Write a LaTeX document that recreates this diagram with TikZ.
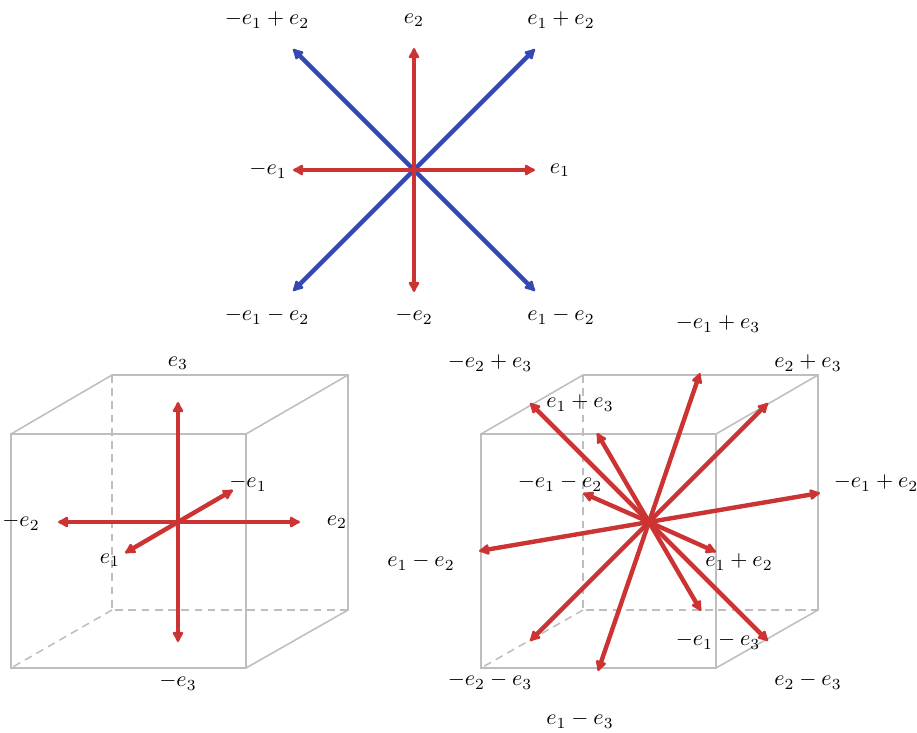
\documentclass[tikz,border=0pt]{standalone}
\usetikzlibrary{arrows.meta}
\definecolor{vred}{RGB}{204,51,51}
\definecolor{vblue}{RGB}{52,73,178}
\definecolor{cubegray}{RGB}{190,190,190}
\begin{document}
\begin{tikzpicture}[x=0.4535pt,y=-0.4535pt,
  vec/.style={line width=2pt,-{Latex[round,length=5.8pt,width=6pt]}},
  redvec/.style={vec,draw=vred},
  bluevec/.style={vec,draw=vblue},
  edge/.style={draw=cubegray,line width=0.7pt},
  hidden/.style={edge,dash pattern=on 3.5pt off 2.5pt},
  lab/.style={inner sep=0pt}]
\useasboundingbox (0,0) rectangle (917,732);
% ---------- top planar diagram ----------
\coordinate (O1) at (414,170);
\coordinate (a1) at (535,170);
\coordinate (a2) at (293,170);
\coordinate (a3) at (414,48);
\coordinate (a4) at (414,292);
\coordinate (a5) at (535,49);
\coordinate (a6) at (293,49);
\coordinate (a7) at (293,291);
\coordinate (a8) at (535,291);
\draw[bluevec] (O1) -- (a5);
\draw[bluevec] (O1) -- (a6);
\draw[bluevec] (O1) -- (a7);
\draw[bluevec] (O1) -- (a8);
\draw[redvec] (O1) -- (a1);
\draw[redvec] (O1) -- (a2);
\draw[redvec] (O1) -- (a3);
\draw[redvec] (O1) -- (a4);
\node[lab] (l1) at (560,170) {$e_1$};
\node[lab] (l2) at (268,170) {$-e_1$};
\node[lab] (l3) at (414,20) {$e_2$};
\node[lab] (l4) at (414,316) {$-e_2$};
\node[lab] (l5) at (561,20) {$e_1+e_2$};
\node[lab] (l6) at (267,20) {$-e_1+e_2$};
\node[lab] (l7) at (267,316) {$-e_1-e_2$};
\node[lab] (l8) at (561,316) {$e_1-e_2$};
% ---------- left cube ----------
\coordinate (A1) at (11,434);
\coordinate (A2) at (246,434);
\coordinate (A3) at (246,668);
\coordinate (A4) at (11,668);
\coordinate (B1) at (112,375);
\coordinate (B2) at (348,375);
\coordinate (B3) at (348,610);
\coordinate (B4) at (112,610);
\draw[hidden] (B1) -- (B4) -- (B3);
\draw[hidden] (B4) -- (A4);
\draw[edge] (A1) -- (A2) -- (A3) -- (A4) -- cycle;
\draw[edge] (A1) -- (B1) -- (B2) -- (B3) -- (A3);
\draw[edge] (A2) -- (B2);
\coordinate (O2) at (178,522);
\coordinate (b1) at (178,402);
\coordinate (b2) at (178,642);
\coordinate (b3) at (300,522);
\coordinate (b4) at (58,522);
\coordinate (b5) at (233,490);
\coordinate (b6) at (125,553);
\draw[redvec] (O2) -- (b5);
\draw[redvec] (O2) -- (b6);
\draw[redvec] (O2) -- (b1);
\draw[redvec] (O2) -- (b2);
\draw[redvec] (O2) -- (b3);
\draw[redvec] (O2) -- (b4);
\node[lab] (m1) at (178,363) {$e_3$};
\node[lab] (m2) at (178,682) {$-e_3$};
\node[lab] (m3) at (337,522) {$e_2$};
\node[lab] (m4) at (21,522) {$-e_2$};
\node[lab] (m5) at (248,483) {$-e_1$};
\node[lab] (m6) at (110,560) {$e_1$};
% ---------- right cube ----------
\coordinate (C1) at (481,434);
\coordinate (C2) at (716,434);
\coordinate (C3) at (716,668);
\coordinate (C4) at (481,668);
\coordinate (D1) at (583,375);
\coordinate (D2) at (818,375);
\coordinate (D3) at (818,610);
\coordinate (D4) at (583,610);
\draw[hidden] (D1) -- (D4) -- (D3);
\draw[hidden] (D4) -- (C4);
\draw[edge] (C1) -- (C2) -- (C3) -- (C4) -- cycle;
\draw[edge] (C1) -- (D1) -- (D2) -- (D3) -- (C3);
\draw[edge] (C2) -- (D2);
\coordinate (O3) at (649,522);
\coordinate (c1) at (530,403);
\coordinate (c2) at (768,641);
\coordinate (c3) at (597,433);
\coordinate (c4) at (701,611);
\coordinate (c5) at (700,373);
\coordinate (c6) at (598,671);
\coordinate (c7) at (768,403);
\coordinate (c8) at (530,641);
\coordinate (c9) at (583,493);
\coordinate (c10) at (716,552);
\coordinate (c11) at (820,493);
\coordinate (c12) at (479,551);
\foreach \t in {c1,c2,c3,c4,c5,c6,c7,c8,c9,c10,c11,c12}
  \draw[redvec] (O3) -- (\t);
\node[lab] (n1) at (718,324) {$-e_1+e_3$};
\node[lab] (n2) at (490,363) {$-e_2+e_3$};
\node[lab] (n3) at (808,363) {$e_2+e_3$};
\node[lab] (n4) at (580,403) {$e_1+e_3$};
\node[lab] (n5) at (560,483) {$-e_1-e_2$};
\node[lab] (n6) at (876,483) {$-e_1+e_2$};
\node[lab] (n7) at (421,562) {$e_1-e_2$};
\node[lab] (n8) at (739,562) {$e_1+e_2$};
\node[lab] (n9) at (718,641) {$-e_1-e_3$};
\node[lab] (n10) at (490,681) {$-e_2-e_3$};
\node[lab] (n11) at (808,681) {$e_2-e_3$};
\node[lab] (n12) at (580,720) {$e_1-e_3$};
\end{tikzpicture}
\end{document}
